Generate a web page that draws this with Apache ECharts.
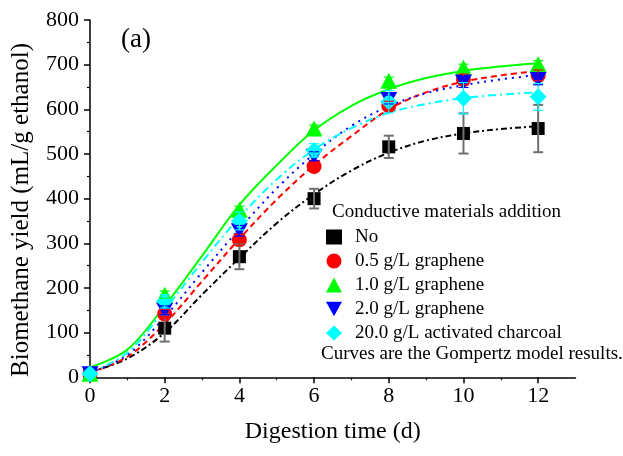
<!DOCTYPE html>
<html>
<head>
<meta charset="utf-8">
<script src="https://cdn.jsdelivr.net/npm/echarts@6/dist/echarts.min.js"></script>
<style>html,body{margin:0;padding:0;background:#fff}#c{width:623px;height:456px}</style>
</head>
<body>
<div id="c"></div>
<script>
// ---- data ----
var days = [0, 2, 4, 6, 8, 10, 12];
var seriesNames = ['No', '0.5 g/L graphene', '1.0 g/L graphene', '2.0 g/L graphene', '20.0 g/L activated charcoal'];
var yieldNo   = [8, 110, 270, 400, 516, 546, 557];
var yield05   = [8, 142, 308, 472, 608, 667, 676];
var yield10   = [8, 185, 375, 557, 664, 693, 701];
var yield20   = [8, 150, 328, 495, 622, 661, 667];
var yieldAC   = [8, 170, 350, 508, 617, 625, 628];
var errNo = [0, 30, 28, 22, 25, 45, 53];
var err05 = [0, 10, 12, 10, 10, 12, 12];
var err10 = [0, 8, 8, 8, 8, 8, 8];
var err20 = [0, 10, 12, 10, 10, 12, 12];
var errAC = [0, 15, 20, 15, 25, 35, 30];
// Gompertz model curves (values read at each day)
var curveDays = [0, 1, 2, 3, 4, 5, 6, 7, 8, 9, 10, 11, 12];
var curveNo = [12, 42, 100, 185, 267, 345, 410, 463, 503, 530, 546, 556, 562];
var curve05 = [10, 46, 120, 215, 310, 398, 475, 540, 600, 638, 662, 676, 686];
var curve10 = [22, 62, 160, 272, 386, 475, 553, 608, 645, 670, 686, 696, 703];
var curve20 = [10, 50, 135, 235, 332, 423, 500, 563, 607, 636, 654, 667, 677];
var curveAC = [10, 55, 152, 258, 358, 443, 510, 558, 592, 612, 625, 633, 638];
var xMajorTicks = [0, 2, 4, 6, 8, 10, 12];
var xMinorTicks = [1, 3, 5, 7, 9, 11];
var legendTitle = 'Conductive materials addition';
var footnote = 'Curves are the Gompertz model results.';
var panelLabel = '(a)';
var xTitle = 'Digestion time (d)';
var yTitle = 'Biomethane yield (mL/g ethanol)';

// ---- build ----
var FONT = 'Liberation Serif';
function pairs(xs, ys) { return xs.map(function (x, i) { return [x, ys[i]]; }); }
function triples(xs, ys, es) { return xs.map(function (x, i) { return [x, ys[i], es[i]]; }); }

var colors = ['#000000', '#ff0000', '#00ff00', '#0000ff', '#00ffff'];
var errColors = ['#707070', '#ff0000', '#00ff00', '#0000ff', '#00ffff'];
var symbols = ['rect', 'circle', 'triangle', 'path://M0,0 L10,0 L5,9 Z', 'diamond'];
var symSizes = [13, 15, [17, 16], [17, 15], [17, 17]];
var means = [yieldNo, yield05, yield10, yield20, yieldAC];
var errs = [errNo, err05, err10, err20, errAC];
var curves = [curveNo, curve05, curve10, curve20, curveAC];
var dashes = [[6, 3, 2, 3], [6, 4], 'solid', [2, 5], [8, 4, 2, 4]];

var series = [];
curves.forEach(function (c, i) {
  series.push({
    type: 'line', name: 'fit' + i, data: pairs(curveDays, c), smooth: 0.35,
    showSymbol: false, symbol: 'none', silent: true, z: 2,
    lineStyle: { color: colors[i], width: 2, type: dashes[i] }
  });
});
means.forEach(function (m, i) {
  series.push({
    type: 'scatter', name: seriesNames[i], data: pairs(days, m),
    symbol: symbols[i], symbolSize: symSizes[i], z: 3 + i,
    itemStyle: { color: colors[i], opacity: 1 }
  });
});
errs.forEach(function (e, i) {
  var col = errColors[i];
  var lw = i === 0 ? 2 : 1.2;
  series.push({
    type: 'custom', name: 'err' + i, data: triples(days, means[i], e), z: 10 + i,
    encode: { x: 0, y: 1 }, silent: true,
    renderItem: function (params, api) {
      var x = api.value(0), y = api.value(1), d = api.value(2);
      if (!d) return null;
      var t = api.coord([x, y + d]), b = api.coord([x, y - d]);
      var hw = 5;
      var st = { stroke: col, lineWidth: lw };
      return { type: 'group', children: [
        { type: 'line', shape: { x1: t[0], y1: t[1], x2: b[0], y2: b[1] }, style: st },
        { type: 'line', shape: { x1: t[0] - hw, y1: t[1], x2: t[0] + hw, y2: t[1] }, style: st },
        { type: 'line', shape: { x1: b[0] - hw, y1: b[1], x2: b[0] + hw, y2: b[1] }, style: st }
      ]};
    }
  });
});

var legendData = seriesNames.map(function (n, i) {
  return { name: n, icon: symbols[i] };
});

var axisTextStyle = { fontFamily: FONT, fontSize: 22, color: '#000' };
var option = {
  animation: false,
  backgroundColor: '#fff',
  grid: { left: 90, right: 47.5, top: 20, bottom: 78.7 },
  xAxis: [{
    type: 'value', min: 0, max: 13, interval: 2,
    axisLine: { lineStyle: { color: '#000', width: 1.5 } },
    axisTick: { show: true, length: 6, lineStyle: { color: '#000', width: 1.5 }, customValues: xMajorTicks },
    axisLabel: Object.assign({ margin: 8, customValues: xMajorTicks }, axisTextStyle),
    splitLine: { show: false },
    name: xTitle, nameLocation: 'middle', nameGap: 42,
    nameTextStyle: { fontFamily: FONT, fontSize: 24, color: '#000' }
  }, {
    type: 'value', min: 0, max: 13, gridIndex: 0, position: 'bottom',
    axisLine: { show: false },
    axisTick: { show: true, length: 3, lineStyle: { color: '#000', width: 1.2 }, customValues: xMinorTicks },
    axisLabel: { show: false },
    splitLine: { show: false }
  }],
  yAxis: {
    type: 'value', min: 0, max: 800, interval: 100,
    axisLine: { show: true, lineStyle: { color: '#000', width: 1.5 } },
    axisTick: { show: true, length: 6, lineStyle: { color: '#000', width: 1.5 } },
    minorTick: { show: true, splitNumber: 2, length: 3, lineStyle: { color: '#000', width: 1.2 } },
    axisLabel: Object.assign({ margin: 11 }, axisTextStyle),
    splitLine: { show: false }
  },
  legend: {
    data: legendData, orient: 'vertical', left: 321, top: 222.5,
    itemWidth: 16, itemHeight: 15, itemGap: 5,
    selectedMode: false,
    textStyle: { fontFamily: FONT, fontSize: 19, color: '#000', lineHeight: 19, padding: [0, 0, 0, 8] }
  },
  graphic: [
    { type: 'text', left: 332, top: 203, style: { text: legendTitle, font: '19px "Liberation Serif"', fill: '#000' } },
    { type: 'text', left: 321, top: 344.5, style: { text: footnote, font: '19px "Liberation Serif"', fill: '#000' } },
    { type: 'text', left: 121, top: 26, style: { text: panelLabel, font: '27px "Liberation Serif"', fill: '#000' } },
    { type: 'text', x: 21, y: 210, rotation: Math.PI / 2,
      style: { text: yTitle, font: '25px "Liberation Serif"', fill: '#000', align: 'center', verticalAlign: 'middle' } }
  ],
  series: series
};
var chart = echarts.init(document.getElementById('c'), null, { renderer: 'canvas' });
chart.setOption(option);
</script>
</body>
</html>
